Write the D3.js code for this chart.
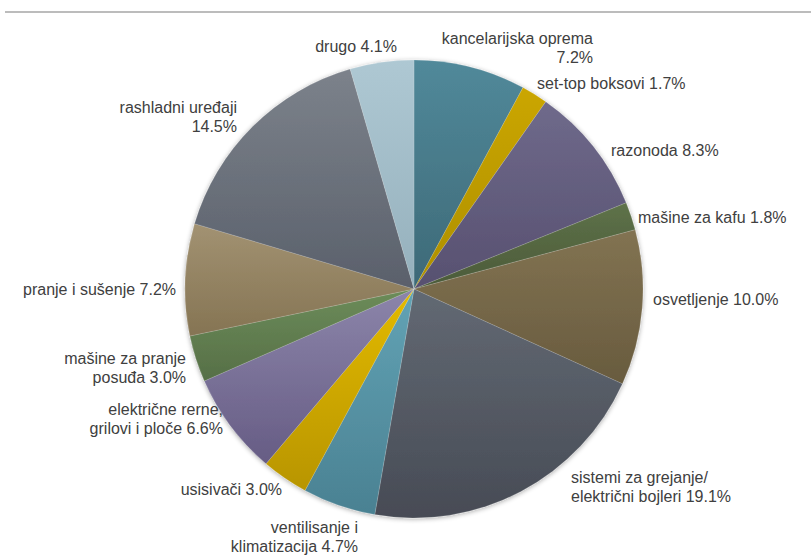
<!DOCTYPE html>
<html><head><meta charset="utf-8">
<script src="https://cdn.jsdelivr.net/npm/d3@7/dist/d3.min.js"></script>
<style>body{margin:0;background:#fff}svg{display:block}text{font-family:"Liberation Sans",Arial,sans-serif;font-size:16px;fill:#404040}</style>
</head><body><svg id="c" width="811" height="560"></svg>
<script>
const categories = ["kancelarijska oprema","set-top boksovi","razonoda","mašine za kafu","osvetljenje","sistemi za grejanje/ električni bojleri","ventilisanje i klimatizacija","usisivači","električne rerne, grilovi i ploče","mašine za pranje posuđa","pranje i sušenje","rashladni uređaji","drugo"];
const values = [7.2,1.7,8.3,1.8,10.0,19.1,4.7,3.0,6.6,3.0,7.2,14.5,4.1];
const labelLines = [["kancelarijska oprema","7.2%"],["set-top boksovi 1.7%"],["razonoda 8.3%"],["mašine za kafu 1.8%"],["osvetljenje 10.0%"],["sistemi za grejanje/","električni bojleri 19.1%"],["ventilisanje i","klimatizacija 4.7%"],["usisivači 3.0%"],["električne rerne,","grilovi i ploče 6.6%"],["mašine za pranje","posuđa 3.0%"],["pranje i sušenje 7.2%"],["rashladni uređaji","14.5%"],["drugo 4.1%"]];
const colorsTop = ["#51899a","#cba600","#6f6a8b","#5e7249","#827352","#626973","#62a3b5","#e3ba00","#8c85aa","#6c8c59","#a29272","#7c828b","#aec8d3"];
const colorsBot = ["#3d6977","#ad8f00","#575070","#4b5a39","#685b3e","#474b55","#4a8192","#b89500","#665c84","#566f47","#857453","#5a606b","#95b0bc"];
// label layout (anchor, x, first baseline)
const labelLayout = [["end",593,44],["start",537,89],["start",611,156],["start",638,223],["start",653,305],["start",571,483],["end",358,533],["end",282,495],["end",223,415],["end",186,364],["end",176,295],["end",237,113],["end",397,52]];

const svg = d3.select("#c");
const cx = 414, cy = 289, R = 229;
svg.append("line").attr("x1",5).attr("x2",811).attr("y1",12).attr("y2",12).attr("stroke","#a6a6a6").attr("stroke-width",1.5);
const defs = svg.append("defs");
const f = defs.append("filter").attr("id","sh").attr("x","-10%").attr("y","-10%").attr("width","120%").attr("height","120%");
f.append("feGaussianBlur").attr("in","SourceAlpha").attr("stdDeviation",2.5).attr("result","b");
f.append("feOffset").attr("in","b").attr("dx",0).attr("dy",1).attr("result","o");
f.append("feComponentTransfer").attr("in","o").attr("result","t").append("feFuncA").attr("type","linear").attr("slope",0.35);
const m = f.append("feMerge"); m.append("feMergeNode").attr("in","t"); m.append("feMergeNode").attr("in","SourceGraphic");
values.forEach((v,i)=>{
  const g = defs.append("linearGradient").attr("id","g"+i).attr("x1",0).attr("y1",0).attr("x2",0).attr("y2",1);
  g.append("stop").attr("offset","0%").attr("stop-color",colorsTop[i]);
  g.append("stop").attr("offset","100%").attr("stop-color",colorsBot[i]);
});
const pie = d3.pie().sort(null).value(d=>d);
const arc = d3.arc().innerRadius(0).outerRadius(R);
const arcs = pie(values);
const gp = svg.append("g").attr("transform",`translate(${cx},${cy})`).attr("filter","url(#sh)");
gp.selectAll("path").data(arcs).join("path").attr("d",arc).attr("fill",(d,i)=>`url(#g${i})`).attr("stroke","rgba(255,255,255,0.25)").attr("stroke-width",0.6);
const lab = svg.append("g");
labelLines.forEach((lines,i)=>{
  const [anc,x,y] = labelLayout[i];
  const t = lab.append("text").attr("text-anchor",anc).attr("x",x).attr("y",y);
  lines.forEach((s,j)=>t.append("tspan").attr("x",x).attr("dy",j?19:0).text(s));
});
</script></body></html>
